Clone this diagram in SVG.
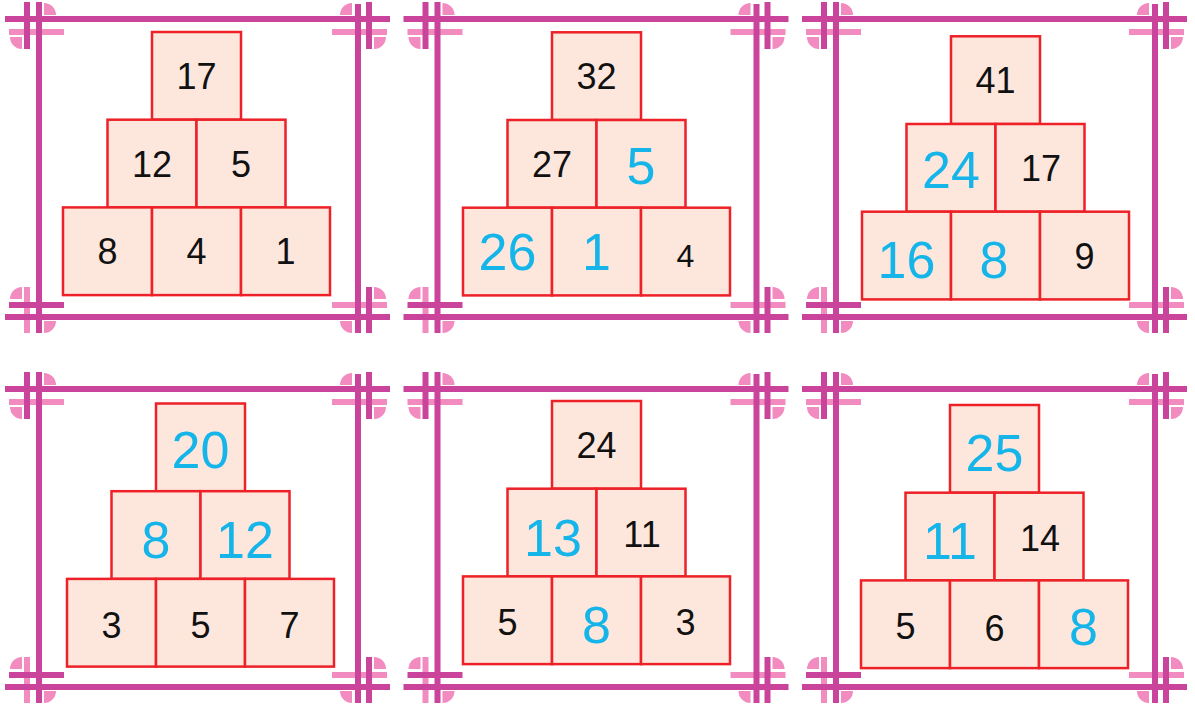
<svg xmlns="http://www.w3.org/2000/svg" xmlns:xlink="http://www.w3.org/1999/xlink" width="1195" height="709" viewBox="0 0 1195 709">
<style>
.d{fill:#c9449a}
.l{fill:#f28bbf}
.b{fill:#fde7dd;stroke:#ed2127;stroke-width:2.5}
.k{font-family:"Liberation Sans",Arial,sans-serif;font-size:36px;fill:#111111;text-anchor:middle}
.c{font-family:"Liberation Sans",Arial,sans-serif;font-size:52px;fill:#16b5e9;text-anchor:middle}
</style>
<defs>
<g id="frame">
<path class="l" d="M44,15 L44,3 A12,12 0 0 1 56,15 Z"/>
<path class="l" d="M22,37 L22,49 A12,12 0 0 1 10,37 Z"/>
<path class="l" d="M352,15 L340,15 A12,12 0 0 1 352,3 Z"/>
<path class="l" d="M374,37 L386,37 A12,12 0 0 1 374,49 Z"/>
<path class="l" d="M22,299 L10,299 A12,12 0 0 1 22,287 Z"/>
<path class="l" d="M44,321 L56,321 A12,12 0 0 1 44,333 Z"/>
<path class="l" d="M374,299 L374,287 A12,12 0 0 1 386,299 Z"/>
<path class="l" d="M352,321 L352,333 A12,12 0 0 1 340,321 Z"/>
<rect class="l" x="9" y="29" width="55" height="6"/>
<rect class="l" x="332" y="29" width="55" height="6"/>
<rect class="l" x="24" y="287" width="6" height="46"/>
<rect class="l" x="332" y="302" width="55" height="6"/>
<rect class="d" x="24" y="2" width="6" height="47"/>
<rect class="d" x="366" y="2" width="6" height="47"/>
<rect class="d" x="9" y="302" width="55" height="6"/>
<rect class="d" x="366" y="287" width="6" height="46"/>
<rect class="d" x="36" y="2" width="6" height="331"/>
<rect class="d" x="355" y="4" width="6" height="329"/>
<rect class="d" x="5" y="16" width="385" height="6"/>
<rect class="d" x="5" y="314" width="385" height="6"/>
</g>
</defs>
<g id="frames">
<use xlink:href="#frame" x="0" y="0"/>
<use xlink:href="#frame" x="398.5" y="0"/>
<use xlink:href="#frame" x="797" y="0"/>
<use xlink:href="#frame" x="0" y="370"/>
<use xlink:href="#frame" x="398.5" y="370"/>
<use xlink:href="#frame" x="797" y="370"/>
</g>
<g id="connectors"/>
<g id="pyramid1">
<g id="p1-top"><rect class="b" x="152" y="32" width="89" height="87.7"/><text class="k" x="196.5" y="88.85">17</text></g>
<g id="p1-ml"><rect class="b" x="107.5" y="119.7" width="89" height="87.7"/><text class="k" x="152" y="176.55">12</text></g>
<g id="p1-mr"><rect class="b" x="196.5" y="119.7" width="89" height="87.7"/><text class="k" x="241" y="176.55">5</text></g>
<g id="p1-bl"><rect class="b" x="63" y="207.4" width="89" height="87.7"/><text class="k" x="107.5" y="264.25">8</text></g>
<g id="p1-bm"><rect class="b" x="152" y="207.4" width="89" height="87.7"/><text class="k" x="196.5" y="264.25">4</text></g>
<g id="p1-br"><rect class="b" x="241" y="207.4" width="89" height="87.7"/><text class="k" x="285.5" y="264.25">1</text></g>
</g>
<g id="pyramid2">
<g id="p2-top"><rect class="b" x="552" y="32.3" width="89" height="87.7"/><text class="k" x="596.5" y="89.15">32</text></g>
<g id="p2-ml"><rect class="b" x="507.5" y="120" width="89" height="87.7"/><text class="k" x="552" y="176.85">27</text></g>
<g id="p2-mr"><rect class="b" x="596.5" y="120" width="89" height="87.7"/><text class="c" x="641" y="184.35">5</text></g>
<g id="p2-bl"><rect class="b" x="463" y="207.7" width="89" height="87.7"/><text class="c" x="507.5" y="270">26</text></g>
<g id="p2-bm"><rect class="b" x="552" y="207.7" width="89" height="87.7"/><text class="c" x="596.5" y="270">1</text></g>
<g id="p2-br"><rect class="b" x="641" y="207.7" width="89" height="87.7"/><text class="k" x="685.5" y="266.5" style="font-size:32px">4</text></g>
</g>
<g id="pyramid3">
<g id="p3-top"><rect class="b" x="951" y="36.3" width="89" height="87.7"/><text class="k" x="995.5" y="93.15">41</text></g>
<g id="p3-ml"><rect class="b" x="906.5" y="124" width="89" height="87.7"/><text class="c" x="951" y="188.35">24</text></g>
<g id="p3-mr"><rect class="b" x="995.5" y="124" width="89" height="87.7"/><text class="k" x="1041" y="180.85">17</text></g>
<g id="p3-bl"><rect class="b" x="862" y="211.7" width="89" height="87.7"/><text class="c" x="906.5" y="277.5">16</text></g>
<g id="p3-bm"><rect class="b" x="951" y="211.7" width="89" height="87.7"/><text class="c" x="994" y="277.5">8</text></g>
<g id="p3-br"><rect class="b" x="1040" y="211.7" width="89" height="87.7"/><text class="k" x="1084.5" y="268.55">9</text></g>
</g>
<g id="pyramid4">
<g id="p4-top"><rect class="b" x="156" y="403.5" width="89" height="87.7"/><text class="c" x="200.5" y="467.85">20</text></g>
<g id="p4-ml"><rect class="b" x="111.5" y="491.2" width="89" height="87.7"/><text class="c" x="156" y="557.5">8</text></g>
<g id="p4-mr"><rect class="b" x="200.5" y="491.2" width="89" height="87.7"/><text class="c" x="245" y="557.5">12</text></g>
<g id="p4-bl"><rect class="b" x="67" y="578.9" width="89" height="87.7"/><text class="k" x="111.5" y="637.5">3</text></g>
<g id="p4-bm"><rect class="b" x="156" y="578.9" width="89" height="87.7"/><text class="k" x="200.5" y="637.5">5</text></g>
<g id="p4-br"><rect class="b" x="245" y="578.9" width="89" height="87.7"/><text class="k" x="289.5" y="637.5">7</text></g>
</g>
<g id="pyramid5">
<g id="p5-top"><rect class="b" x="552" y="401" width="89" height="87.7"/><text class="k" x="596.5" y="457.85">24</text></g>
<g id="p5-ml"><rect class="b" x="507.5" y="488.7" width="89" height="87.7"/><text class="c" x="553" y="555.5">13</text></g>
<g id="p5-mr"><rect class="b" x="596.5" y="488.7" width="89" height="87.7"/><text class="k" x="642" y="546.5">11</text></g>
<g id="p5-bl"><rect class="b" x="463" y="576.4" width="89" height="87.7"/><text class="k" x="507.5" y="634.5">5</text></g>
<g id="p5-bm"><rect class="b" x="552" y="576.4" width="89" height="87.7"/><text class="c" x="596.5" y="643">8</text></g>
<g id="p5-br"><rect class="b" x="641" y="576.4" width="89" height="87.7"/><text class="k" x="685.5" y="634.5">3</text></g>
</g>
<g id="pyramid6">
<g id="p6-top"><rect class="b" x="950" y="405" width="89" height="87.7"/><text class="c" x="994.5" y="470.5">25</text></g>
<g id="p6-ml"><rect class="b" x="905.5" y="492.7" width="89" height="87.7"/><text class="c" x="950" y="558.5">11</text></g>
<g id="p6-mr"><rect class="b" x="994.5" y="492.7" width="89" height="87.7"/><text class="k" x="1040" y="550.5">14</text></g>
<g id="p6-bl"><rect class="b" x="861" y="580.4" width="89" height="87.7"/><text class="k" x="905.5" y="638.5">5</text></g>
<g id="p6-bm"><rect class="b" x="950" y="580.4" width="89" height="87.7"/><text class="k" x="994.5" y="641">6</text></g>
<g id="p6-br"><rect class="b" x="1039" y="580.4" width="89" height="87.7"/><text class="c" x="1083.5" y="645">8</text></g>
</g>
</svg>
